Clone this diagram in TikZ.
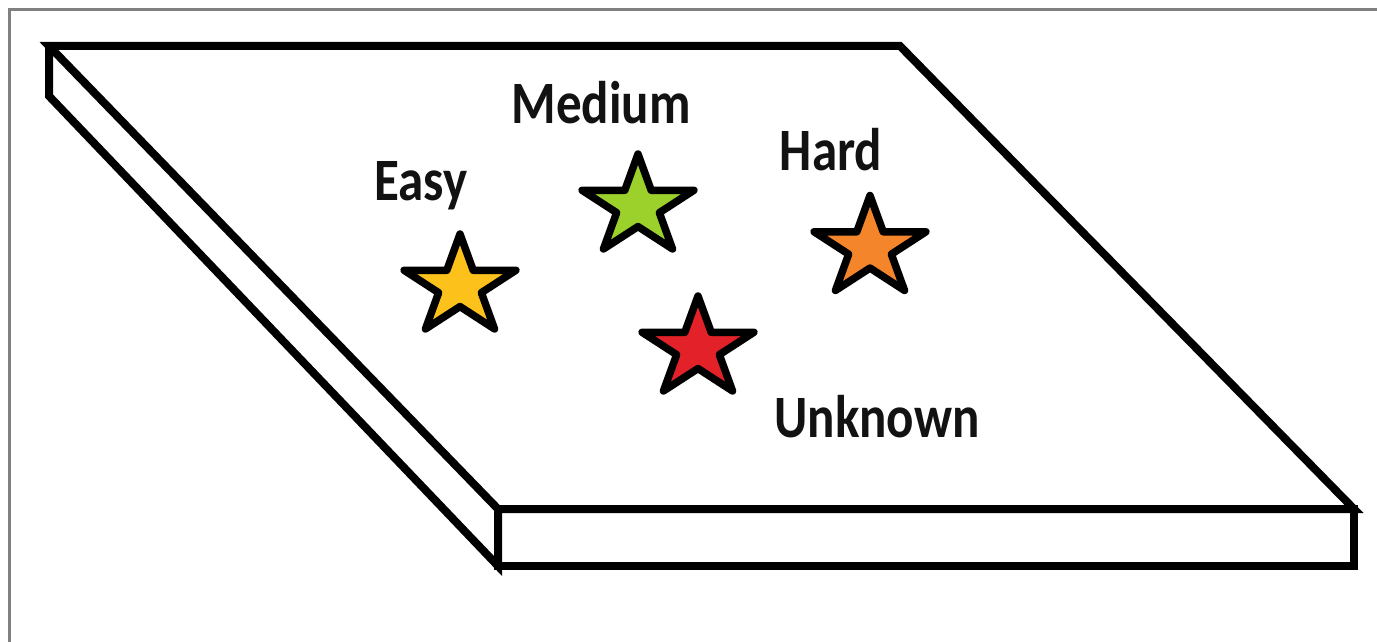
\documentclass[tikz,border=0pt]{standalone}
\usepackage{fontspec}
\setmainfont{Carlito}
\usetikzlibrary{shapes.geometric}
\definecolor{framegray}{HTML}{808080}
\definecolor{easyc}{HTML}{FCC21B}
\definecolor{mediumc}{HTML}{9CD12C}
\definecolor{hardc}{HTML}{F5852B}
\definecolor{unknownc}{HTML}{E22228}
\definecolor{txt}{HTML}{121212}
\tikzset{
  slab/.style={line width=8pt, line join=miter, draw=black},
  starnode/.style={star, star points=5, star point ratio=2.618, minimum size=105pt,
    inner sep=0pt, outer sep=0pt, draw=black, line width=7.5pt, line join=round,
    xscale=1.12, transform shape},
  lbl/.style={anchor=base, inner sep=0pt, text=txt, font=\bfseries\fontsize{51}{60}\selectfont},
  frame/.style={line width=3.5pt, draw=framegray}
}
\begin{document}
\begin{tikzpicture}[x=1pt,y=-1pt]
\useasboundingbox (0,0) rectangle (1377,642);
\fill[white] (0,0) rectangle (1377,642);
% gray frame
\coordinate (ftr) at (1377,9.5);
\coordinate (fbl) at (9.5,642);
\draw[frame] (fbl) -- (9.5,7.75);
\draw[frame] (7.75,9.5) -- (ftr);
% slab corners
\coordinate (A) at (49,46);
\coordinate (B) at (900,46);
\coordinate (C) at (1354,509);
\coordinate (D) at (498,509);
\coordinate (E) at (49,96);
\coordinate (F) at (498,566);
\coordinate (G) at (1354,566);
\draw[slab] (A) -- (B) -- (C) -- (D) -- cycle;
\draw[slab] (A) -- (E) -- (F) -- (D);
\draw[slab] (D) -- (C) -- (G) -- (F) -- cycle;
% stars
\node[starnode, fill=easyc] (seasy) at (460,286.5) {};
\node[starnode, fill=mediumc] (smedium) at (638,206.5) {};
\node[starnode, fill=hardc] (shard) at (870,248) {};
\node[starnode, fill=unknownc] (sunknown) at (698,348.5) {};
% labels
\node[lbl] (leasy) at (421,200) {\scalebox{1}[1.18]{Easy}};
\node[lbl] (lmedium) at (601,123) {\scalebox{1}[1.18]{Medium}};
\node[lbl] (lhard) at (831,170) {\scalebox{1}[1.18]{Hard}};
\node[lbl] (lunknown) at (877,437) {\scalebox{1}[1.18]{Unknown}};
\end{tikzpicture}
\end{document}
